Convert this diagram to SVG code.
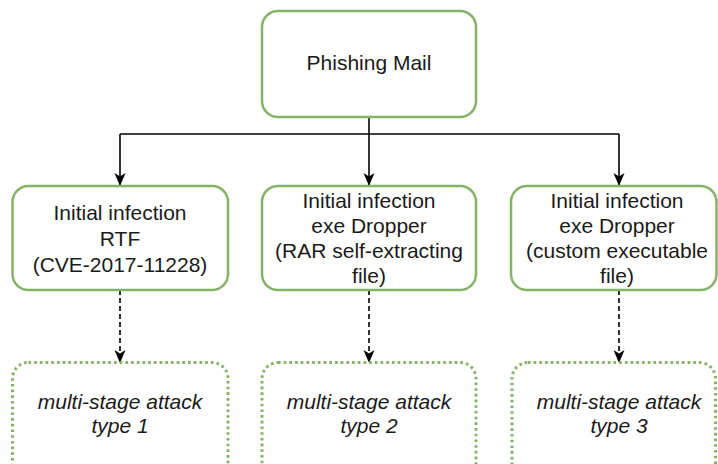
<svg xmlns="http://www.w3.org/2000/svg" width="718" height="464" viewBox="0 0 718 464">
  <style>
    .box { fill: #ffffff; stroke: #82b366; stroke-width: 2.5; }
    .dotbox { fill: #ffffff; stroke: #82b366; stroke-width: 3; stroke-dasharray: 2.6 3.1; }
    .lbl { font-family: "Liberation Sans", Arial, sans-serif; font-size: 21px; fill: #1a1a1a; text-anchor: middle; }
    .it { font-style: italic; }
    .wire { fill: none; stroke: #000000; stroke-width: 1.6; }
    .dash { stroke-dasharray: 5 3; }
  </style>
  <defs>
    <marker id="arrow" viewBox="0 0 13 13" refX="12" refY="6.5" markerWidth="13" markerHeight="13" markerUnits="userSpaceOnUse" orient="auto">
      <path d="M0,1 L13,6.5 L0,12 L3.5,6.5 Z" fill="#000000"/>
    </marker>
  </defs>

  <rect width="718" height="464" fill="#ffffff"/>

  <!-- connectors -->
  <g id="connectors">
    <path class="wire" d="M369,117 V185" marker-end="url(#arrow)"/>
    <path class="wire" d="M120,134 H619"/>
    <path class="wire" d="M120,134 V185" marker-end="url(#arrow)"/>
    <path class="wire" d="M619,134 V185" marker-end="url(#arrow)"/>
    <path class="wire dash" d="M120,290 V362" marker-end="url(#arrow)"/>
    <path class="wire dash" d="M369,290 V362" marker-end="url(#arrow)"/>
    <path class="wire dash" d="M619,290 V362" marker-end="url(#arrow)"/>
  </g>

  <!-- top node -->
  <g id="phishing-mail">
    <rect class="box" x="262" y="11" width="214" height="106" rx="16"/>
    <text class="lbl" x="369" y="70" font-size="22">Phishing Mail</text>
  </g>

  <!-- initial infection nodes -->
  <g id="infection-rtf">
    <rect class="box" x="12.5" y="186" width="215.5" height="104" rx="16"/>
    <text class="lbl" x="120" y="220">Initial infection</text>
    <text class="lbl" x="120" y="246">RTF</text>
    <text class="lbl" x="120" y="272">(CVE-2017-11228)</text>
  </g>

  <g id="infection-rar">
    <rect class="box" x="262" y="186" width="214" height="104" rx="16"/>
    <text class="lbl" x="369" y="208">Initial infection</text>
    <text class="lbl" x="369" y="233">exe Dropper</text>
    <text class="lbl" x="369" y="258">(RAR self-extracting</text>
    <text class="lbl" x="369" y="283">file)</text>
  </g>

  <g id="infection-custom">
    <rect class="box" x="511" y="186" width="205.5" height="104" rx="16"/>
    <text class="lbl" x="617" y="208">Initial infection</text>
    <text class="lbl" x="617" y="233">exe Dropper</text>
    <text class="lbl" x="617" y="258">(custom executable</text>
    <text class="lbl" x="617" y="283">file)</text>
  </g>

  <!-- attack stage nodes -->
  <g id="attack-type-1">
    <rect class="dotbox" x="12.5" y="362.5" width="215.5" height="120" rx="16"/>
    <text class="lbl it" x="120" y="409">multi-stage attack</text>
    <text class="lbl it" x="120" y="433">type 1</text>
  </g>

  <g id="attack-type-2">
    <rect class="dotbox" x="262" y="362.5" width="214" height="120" rx="16"/>
    <text class="lbl it" x="369" y="409">multi-stage attack</text>
    <text class="lbl it" x="369" y="433">type 2</text>
  </g>

  <g id="attack-type-3">
    <rect class="dotbox" x="512" y="362.5" width="203.5" height="120" rx="16"/>
    <text class="lbl it" x="619" y="409">multi-stage attack</text>
    <text class="lbl it" x="619" y="433">type 3</text>
  </g>
</svg>
